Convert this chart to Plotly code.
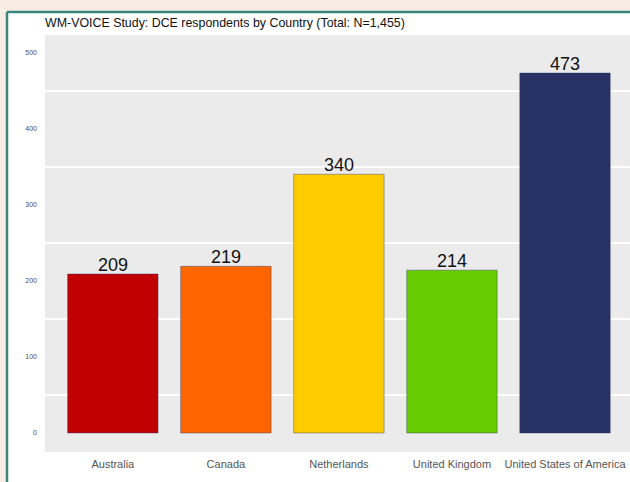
import plotly.graph_objects as go

countries = ["Australia", "Canada", "Netherlands", "United Kingdom", "United States of America"]
respondents = [209, 219, 340, 214, 473]
bar_colors = ["#c00000", "#ff6600", "#ffcc00", "#66cc00", "#283264"]
y_ticks = [0, 100, 200, 300, 400, 500]

W, H = 630, 482
ml, mr, mt, mb = 45, 0, 35, 30
pw, ph = W - ml - mr, H - mt - mb

def px_x(p):
    return (p - ml) / pw

def px_y(p):
    return (H - mb - p) / ph

beige = "#f7ede3"
teal = "#3a857d"

fig = go.Figure()
fig.add_trace(go.Bar(
    x=countries, y=respondents,
    marker=dict(color=bar_colors, line=dict(color="rgba(40,50,100,0.5)", width=0.8)),
    width=0.8,
    hoverinfo="skip",
))

annotations = [
    dict(x=c, y=v, xref="x", yref="y", text=str(v), showarrow=False,
         yanchor="bottom", yshift=-3,
         font=dict(size=18, color="#111111", family="Liberation Sans, Arial"))
    for c, v in zip(countries, respondents)
]

fig.update_layout(
    width=W, height=H,
    margin=dict(l=ml, r=mr, t=mt, b=mb),
    paper_bgcolor="#ffffff",
    plot_bgcolor="#ebebeb",
    showlegend=False,
    font=dict(family="Liberation Sans, Arial", color="#333333"),
    title=dict(
        text="WM-VOICE Study: DCE respondents by Country (Total: N=1,455)",
        x=45 / W, xref="container", xanchor="left",
        y=1 - 23 / H, yref="container", yanchor="middle",
        font=dict(size=12.4, color="#111111", family="Liberation Sans, Arial"),
    ),
    xaxis=dict(
        range=[-0.6, 4.575], showgrid=False, zeroline=False,
        tickfont=dict(size=11, color="#555555"), ticks="",
        ticklabelstandoff=4,
    ),
    yaxis=dict(
        range=[-25, 523], tickvals=y_ticks, showgrid=False, zeroline=False,
        tickfont=dict(size=7, color="#4d4d5a"), ticks="",
        ticklabelstandoff=7,
        minor=dict(tick0=50, dtick=100, showgrid=True, gridcolor="#ffffff", gridwidth=1.5),
    ),
    bargap=0.2,
    annotations=annotations,
    shapes=[
        dict(type="rect", xref="paper", yref="paper", layer="below",
             x0=px_x(-20), x1=px_x(700), y0=px_y(12), y1=px_y(-20),
             fillcolor=beige, line=dict(width=0)),
        dict(type="rect", xref="paper", yref="paper", layer="below",
             x0=px_x(-20), x1=px_x(7), y0=px_y(600), y1=px_y(-20),
             fillcolor=beige, line=dict(width=0)),
        dict(type="line", xref="paper", yref="paper", layer="below",
             x0=px_x(7), x1=px_x(700), y0=px_y(12), y1=px_y(12),
             line=dict(color=teal, width=2.5)),
        dict(type="line", xref="paper", yref="paper", layer="below",
             x0=px_x(7), x1=px_x(7), y0=px_y(12), y1=px_y(600),
             line=dict(color=teal, width=2.5)),
    ],
)

fig.write_html("out.html", config={"displayModeBar": False},
               post_script="document.body.style.margin='0';document.body.style.overflow='hidden';")
